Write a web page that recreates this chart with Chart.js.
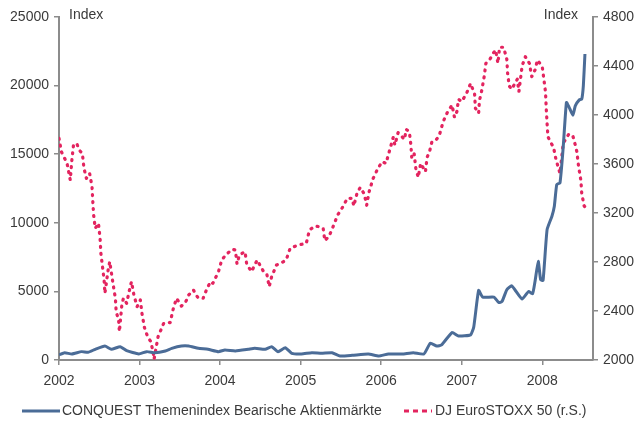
<!DOCTYPE html>
<html>
<head>
<meta charset="utf-8">
<script src="https://cdn.jsdelivr.net/npm/chart.js@4.4.1/dist/chart.umd.min.js"></script>
<style>
  html, body { margin: 0; padding: 0; background: #fff; }
</style>
</head>
<body>
<canvas id="chart" width="637" height="421"></canvas>
<script>
// CONQUEST Themenindex (left axis), dates in decimal years
const conquestDates = [2002.00, 2002.07, 2002.16, 2002.28, 2002.36, 2002.45, 2002.57, 2002.65, 2002.76, 2002.84,
  2002.99, 2003.09, 2003.19, 2003.32, 2003.40, 2003.52, 2003.61, 2003.73, 2003.85, 2003.98,
  2004.06, 2004.19, 2004.35, 2004.43, 2004.56, 2004.64, 2004.72, 2004.81, 2004.89, 2005.01,
  2005.14, 2005.26, 2005.39, 2005.49, 2005.64, 2005.84, 2005.97, 2006.09, 2006.26, 2006.40,
  2006.53, 2006.61, 2006.69, 2006.75, 2006.88, 2006.96, 2007.11, 2007.15, 2007.21, 2007.26,
  2007.40, 2007.46, 2007.50, 2007.56, 2007.62, 2007.66, 2007.75, 2007.83, 2007.88, 2007.91,
  2007.95, 2007.98, 2008.01, 2008.06, 2008.12, 2008.15, 2008.18, 2008.22, 2008.26, 2008.30,
  2008.33, 2008.38, 2008.41, 2008.46, 2008.49, 2008.51, 2008.53];
const conquestValues = [370, 530, 440, 610, 560, 780, 1020, 780, 970, 680,
  440, 610, 530, 660, 850, 1020, 1020, 850, 780, 610,
  730, 660, 780, 850, 780, 970, 600, 900, 490, 440,
  530, 490, 530, 290, 340, 440, 290, 440, 440, 530,
  440, 1220, 1020, 1100, 2000, 1750, 1830, 2430, 5070, 4580,
  4580, 4190, 4260, 5120, 5410, 5120, 4440, 4990, 4830, 5720,
  7190, 5850, 5800, 9500, 10480, 11210, 12790, 12910, 15500, 18770,
  18470, 17840, 18520, 18960, 19010, 19980, 22300];

// DJ EuroSTOXX 50 (right axis)
const stoxxDates = [2002.00, 2002.03, 2002.10, 2002.12, 2002.14, 2002.16, 2002.18, 2002.22, 2002.25, 2002.29,
  2002.31, 2002.34, 2002.38, 2002.41, 2002.42, 2002.43, 2002.45, 2002.49, 2002.51, 2002.52,
  2002.54, 2002.56, 2002.57, 2002.61, 2002.63, 2002.67, 2002.70, 2002.71, 2002.74, 2002.75,
  2002.78, 2002.80, 2002.84, 2002.87, 2002.90, 2002.93, 2002.97, 2003.01, 2003.03, 2003.06,
  2003.10, 2003.14, 2003.17, 2003.18, 2003.23, 2003.30, 2003.38, 2003.42, 2003.46, 2003.52,
  2003.57, 2003.61, 2003.67, 2003.69, 2003.73, 2003.79, 2003.83, 2003.88, 2003.91, 2003.98,
  2004.02, 2004.07, 2004.15, 2004.19, 2004.21, 2004.24, 2004.31, 2004.33, 2004.39, 2004.46,
  2004.54, 2004.58, 2004.61, 2004.64, 2004.70, 2004.75, 2004.82, 2004.87, 2004.97, 2005.07,
  2005.11, 2005.18, 2005.23, 2005.28, 2005.30, 2005.35, 2005.39, 2005.46, 2005.52, 2005.58,
  2005.64, 2005.66, 2005.70, 2005.74, 2005.79, 2005.82, 2005.85, 2005.90, 2005.95, 2006.01,
  2006.06, 2006.10, 2006.15, 2006.17, 2006.21, 2006.29, 2006.31, 2006.35, 2006.37, 2006.38,
  2006.41, 2006.43, 2006.46, 2006.49, 2006.55, 2006.57, 2006.60, 2006.63, 2006.68, 2006.72,
  2006.77, 2006.82, 2006.88, 2006.91, 2006.94, 2006.96, 2007.00, 2007.06, 2007.11, 2007.16,
  2007.17, 2007.21, 2007.22, 2007.25, 2007.28, 2007.30, 2007.35, 2007.39, 2007.42, 2007.45,
  2007.47, 2007.52, 2007.56, 2007.57, 2007.59, 2007.62, 2007.69, 2007.71, 2007.75, 2007.79,
  2007.84, 2007.87, 2007.91, 2007.94, 2008.00, 2008.04, 2008.05, 2008.06, 2008.07, 2008.10,
  2008.14, 2008.17, 2008.22, 2008.26, 2008.33, 2008.38, 2008.41, 2008.43, 2008.45, 2008.48,
  2008.49, 2008.52, 2008.53];
const stoxxValues = [3810, 3700, 3606, 3537, 3469, 3633, 3755, 3769, 3714, 3687,
  3565, 3483, 3524, 3415, 3292, 3184, 3075, 3116, 2993, 2871,
  2762, 2653, 2544, 2735, 2803, 2626, 2504, 2394, 2327, 2231,
  2449, 2504, 2463, 2558, 2640, 2531, 2435, 2490, 2381, 2267,
  2190, 2150, 2060, 2006, 2190, 2300, 2305, 2422, 2504, 2440,
  2470, 2531, 2571, 2544, 2504, 2504, 2571, 2640, 2626, 2721,
  2816, 2857, 2904, 2898, 2784, 2857, 2884, 2784, 2721, 2816,
  2721, 2702, 2598, 2680, 2775, 2789, 2816, 2912, 2939, 2952,
  3061, 3094, 3088, 3075, 2974, 3007, 3067, 3184, 3246, 3320,
  3320, 3257, 3361, 3409, 3355, 3263, 3373, 3482, 3551, 3619,
  3605, 3700, 3818, 3755, 3856, 3801, 3883, 3863, 3747, 3646,
  3682, 3565, 3491, 3605, 3537, 3654, 3700, 3782, 3796, 3829,
  3946, 4019, 4082, 3981, 4027, 4128, 4109, 4177, 4258, 4171,
  4055, 4014, 4117, 4204, 4318, 4422, 4455, 4503, 4531, 4422,
  4553, 4553, 4455, 4340, 4237, 4210, 4292, 4190, 4400, 4476,
  4422, 4313, 4367, 4449, 4394, 4190, 4046, 3931, 3823, 3782,
  3736, 3638, 3524, 3769, 3845, 3829, 3755, 3700, 3584, 3464,
  3361, 3257, 3251];

const seriesNames = ['CONQUEST Themenindex Bearische Aktienmärkte', 'DJ EuroSTOXX 50 (r.S.)'];
const yearTicks = [2002, 2003, 2004, 2005, 2006, 2007, 2008];
const axisTitle = 'Index';

const blue = '#4b6c97';
const pink = '#e3245f';
const axisGrey = '#8c8c8c';
const textColor = '#3a3a3a';
const font = { family: 'Liberation Sans, Arial, sans-serif', size: 14 };

const extras = {
  id: 'extras',
  afterDraw(chart) {
    const ctx = chart.ctx;
    const area = chart.chartArea;
    ctx.save();
    ctx.font = font.size + 'px ' + font.family;
    ctx.fillStyle = textColor;
    ctx.textBaseline = 'middle';
    // axis titles
    ctx.textAlign = 'left';
    ctx.fillText(axisTitle, area.left + 10, 15);
    ctx.textAlign = 'right';
    ctx.fillText(axisTitle, area.right - 15, 15);

    // legend
    const ly = 411;
    ctx.textAlign = 'left';
    ctx.lineWidth = 3;
    ctx.strokeStyle = blue;
    ctx.beginPath();
    ctx.moveTo(22, ly);
    ctx.lineTo(60, ly);
    ctx.stroke();
    ctx.fillText(seriesNames[0], 62, ly);

    ctx.strokeStyle = pink;
    ctx.setLineDash([5, 4]);
    ctx.beginPath();
    ctx.moveTo(404, ly);
    ctx.lineTo(432, ly);
    ctx.stroke();
    ctx.setLineDash([]);
    ctx.fillText(seriesNames[1], 435, ly);
    ctx.restore();
  }
};

new Chart(document.getElementById('chart'), {
  type: 'line',
  data: {
    datasets: [
      {
        label: seriesNames[0],
        data: conquestDates.map((d, i) => ({ x: d, y: conquestValues[i] })),
        yAxisID: 'y',
        borderColor: blue,
        borderWidth: 3,
        pointRadius: 0,
        tension: 0.15,
        borderJoinStyle: 'round',
        order: 0
      },
      {
        label: seriesNames[1],
        data: stoxxDates.map((d, i) => ({ x: d, y: stoxxValues[i] })),
        yAxisID: 'y1',
        borderColor: pink,
        borderWidth: 3.2,
        borderDash: [1, 6],
        borderCapStyle: 'round',
        borderJoinStyle: 'round',
        pointRadius: 0,
        tension: 0,
        order: 1
      }
    ]
  },
  options: {
    responsive: false,
    animation: false,
    layout: { padding: { top: 17, left: 0, right: 0, bottom: 0 } },
    plugins: { legend: { display: false }, tooltip: { enabled: false } },
    scales: {
      x: {
        type: 'linear',
        min: 2002,
        max: 2008.63,
        afterBuildTicks: s => { s.ticks = yearTicks.map(v => ({ value: v })); },
        afterFit: s => { s.height = 61; },
        ticks: { callback: v => String(v), color: textColor, font: font, padding: 8, maxRotation: 0, autoSkip: false },
        grid: { drawOnChartArea: false, tickLength: 5, color: axisGrey, lineWidth: 1.5 },
        border: { color: axisGrey, width: 2 }
      },
      y: {
        position: 'left',
        min: 0,
        max: 25000,
        afterFit: s => { s.width = 59; },
        ticks: { stepSize: 5000, callback: v => String(v), color: textColor, font: font, padding: 5 },
        grid: { drawOnChartArea: false, tickLength: 5, color: axisGrey, lineWidth: 1.5 },
        border: { color: axisGrey, width: 2 }
      },
      y1: {
        position: 'right',
        min: 2000,
        max: 4800,
        afterFit: s => { s.width = 44; },
        ticks: { stepSize: 400, callback: v => String(v), color: textColor, font: font, padding: 5 },
        grid: { drawOnChartArea: false, tickLength: 5, color: axisGrey, lineWidth: 1.5 },
        border: { color: axisGrey, width: 2 }
      }
    }
  },
  plugins: [extras]
});
</script>
</body>
</html>
